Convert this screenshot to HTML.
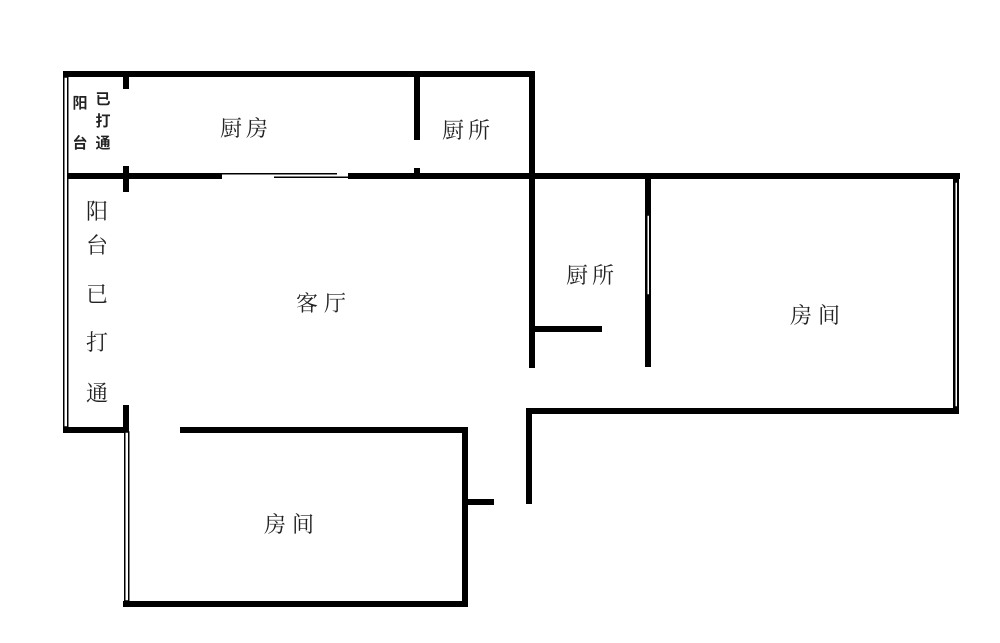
<!DOCTYPE html>
<html><head><meta charset="utf-8"><style>
html,body{margin:0;padding:0;background:#fff;}
svg{display:block}
text{font-family:"Liberation Sans","Noto Sans CJK SC",sans-serif;fill:#222;}
.s{font-family:"Liberation Serif","Noto Serif CJK SC",serif;}
</style></head><body>
<svg width="1000" height="643" viewBox="0 0 1000 643" xmlns="http://www.w3.org/2000/svg">
<g fill="#000">
<rect x="63" y="71" width="472" height="6"/>
<rect x="529" y="71" width="6" height="297"/>
<rect x="63" y="173" width="159" height="6"/>
<rect x="348" y="173" width="612" height="6"/>
<rect x="222" y="173" width="115" height="1.5"/>
<rect x="274" y="176.5" width="74" height="1.5"/>
<rect x="123" y="77" width="6" height="12"/>
<rect x="123" y="166" width="6" height="26"/>
<rect x="123" y="405" width="6" height="27"/>
<rect x="414" y="77" width="6" height="63"/>
<rect x="414" y="168" width="6" height="8"/>
<rect x="63" y="427" width="66" height="6"/>
<rect x="645" y="179" width="6" height="188"/>
<rect x="953" y="173" width="6" height="241"/>
<rect x="526" y="408" width="433" height="6"/>
<rect x="526" y="408" width="6" height="96"/>
<rect x="532" y="326" width="70" height="6"/>
<rect x="180" y="427" width="288" height="6"/>
<rect x="462" y="427" width="6" height="180"/>
<rect x="123" y="601" width="345" height="6"/>
<rect x="468" y="499" width="26" height="6"/>
</g>
<g fill="#fff" stroke="#000" stroke-width="1.5">
<rect x="63.75" y="77" width="4" height="350"/>
<rect x="124.75" y="432" width="4" height="169"/>
<rect x="646.75" y="215" width="3" height="80"/>
<rect x="954.75" y="182" width="3" height="225"/>
</g>
<g font-size="15" font-weight="bold" text-anchor="middle" style="fill:#000">
<text x="80" y="108">阳</text>
<text x="103" y="104">已</text>
<text x="103" y="126">打</text>
<text x="80" y="148">台</text>
<text x="103" y="148">通</text>
</g>
<g font-size="22" text-anchor="middle" class="s">
<text class="s" x="246" y="136" letter-spacing="4">厨房</text>
<text class="s" x="468" y="138" letter-spacing="4">厨所</text>
<text class="s" x="592" y="283" letter-spacing="4">厨所</text>
<text class="s" x="324" y="311" letter-spacing="6">客厅</text>
<text class="s" x="818" y="323" letter-spacing="6">房间</text>
<text class="s" x="292" y="532" letter-spacing="6">房间</text>
<text class="s" x="97" y="219">阳</text>
<text class="s" x="97" y="253">台</text>
<text class="s" x="97" y="302">已</text>
<text class="s" x="97" y="350">打</text>
<text class="s" x="97" y="401">通</text>
</g>
</svg>
</body></html>
